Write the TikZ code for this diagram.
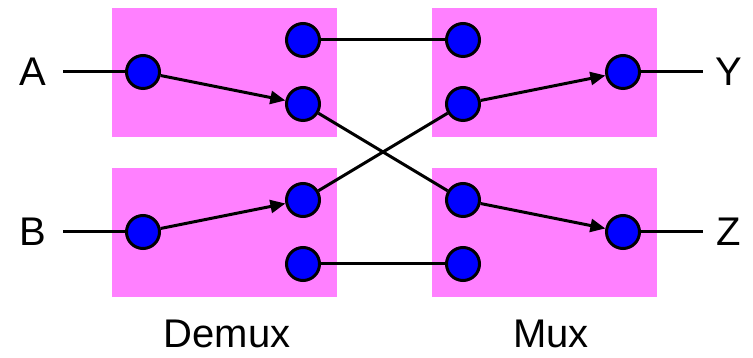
\documentclass[tikz,border=0pt]{standalone}
\usepackage{fontspec}
\setmainfont{Liberation Sans}
\usetikzlibrary{arrows.meta}
\definecolor{boxpink}{RGB}{255,128,255}

\begin{document}
\begin{tikzpicture}[x=1pt,y=1pt,
    port/.style={circle, draw, line width=3pt, fill=blue, minimum size=33pt, inner sep=0pt},
    wire/.style={line width=3pt},
    sel/.style={wire, -{Triangle[length=15pt,width=13pt]}},
    lbl/.style={font=\fontsize{40}{48}\selectfont, inner sep=0pt}]
    \useasboundingbox (0,0) rectangle (753,358);
    % switch blocks
    \fill[boxpink] (112,221) rectangle (337,350);
    \fill[boxpink] (432,221) rectangle (657,350);
    \fill[boxpink] (112,61) rectangle (337,190);
    \fill[boxpink] (432,61) rectangle (657,190);
    % ports
    \node[port] (dA) at (143,286) {};
    \node[port] (d1) at (303,318) {};
    \node[port] (d2) at (303,254) {};
    \node[port] (dB) at (143,126) {};
    \node[port] (d3) at (303,158) {};
    \node[port] (d4) at (303,94) {};
    \node[port] (m1) at (463,318) {};
    \node[port] (m2) at (463,254) {};
    \node[port] (mY) at (623,286) {};
    \node[port] (m3) at (463,158) {};
    \node[port] (m4) at (463,94) {};
    \node[port] (mZ) at (623,126) {};
    % inputs and outputs
    \node[lbl] (A) at (33,286) {A};
    \node[lbl] (B) at (33,126) {B};
    \node[lbl] (Y) at (729,286) {Y};
    \node[lbl] (Z) at (729,126) {Z};
    \coordinate (inA) at (63,286);
    \coordinate (inB) at (63,126);
    \coordinate (outY) at (703,286);
    \coordinate (outZ) at (703,126);
    \draw[wire] (inA) -- (dA);
    \draw[wire] (inB) -- (dB);
    \draw[wire] (mY) -- (outY);
    \draw[wire] (mZ) -- (outZ);
    % crossings
    \draw[wire] (d1) -- (m1);
    \draw[wire] (d2) -- (m3);
    \draw[wire] (d3) -- (m2);
    \draw[wire] (d4) -- (m4);
    % selected paths
    \draw[sel] (dA) -- (d2);
    \draw[sel] (dB) -- (d3);
    \draw[sel] (m2) -- (mY);
    \draw[sel] (m3) -- (mZ);
    \node[lbl] (demux) at (227,24) {Demux};
    \node[lbl] (mux) at (551,24) {Mux};
\end{tikzpicture}
\end{document}
